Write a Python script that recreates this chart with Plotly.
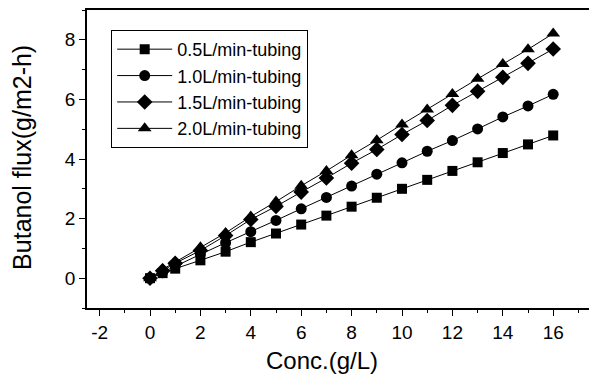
import plotly.graph_objects as go

conc = [0, 0.5, 1, 2, 3, 4, 5, 6, 7, 8, 9, 10, 11, 12, 13, 14, 15, 16]
flux_05 = [0, 0.17, 0.32, 0.60, 0.89, 1.21, 1.50, 1.80, 2.10, 2.40, 2.70, 3.00, 3.30, 3.60, 3.89, 4.20, 4.49, 4.79]
flux_10 = [0, 0.20, 0.42, 0.80, 1.19, 1.56, 1.94, 2.33, 2.71, 3.09, 3.49, 3.87, 4.26, 4.62, 5.01, 5.41, 5.78, 6.17]
flux_15 = [0, 0.25, 0.50, 0.93, 1.43, 1.97, 2.41, 2.89, 3.36, 3.86, 4.32, 4.82, 5.29, 5.80, 6.27, 6.74, 7.21, 7.69]
flux_20 = [0, 0.30, 0.54, 1.04, 1.52, 2.07, 2.57, 3.10, 3.60, 4.13, 4.63, 5.16, 5.66, 6.18, 6.69, 7.19, 7.68, 8.21]

series_names = ["0.5L/min-tubing", "1.0L/min-tubing", "1.5L/min-tubing", "2.0L/min-tubing"]
series_vals = [flux_05, flux_10, flux_15, flux_20]
symbols = ["square", "circle", "diamond", "triangle-up"]
sizes = [10, 11, 12, 12]

x_ticks = [-2, 0, 2, 4, 6, 8, 10, 12, 14, 16]
x_ticktext = ["-2", "0", "2", "4", "6", "8", "10", "12", "14", "16"]
y_ticks = [0, 2, 4, 6, 8]

x_title = "Conc.(g/L)"
y_title = "Butanol flux(g/m2-h)"

fig = go.Figure()
for name, vals, sym, sz in zip(series_names, series_vals, symbols, sizes):
    fig.add_trace(go.Scatter(
        x=conc, y=vals, name=name, mode="lines+markers",
        line=dict(color="black", width=1),
        marker=dict(symbol=sym, size=sz, color="black"),
    ))

font = "Arial, 'Liberation Sans', sans-serif"
axis_common = dict(
    showgrid=False, zeroline=False, showline=True, linecolor="black", linewidth=1.5,
    mirror=True, ticks="outside", ticklen=6, tickwidth=1, tickcolor="black",
    tickfont=dict(family=font, size=19, color="black"),
    automargin=False,
)

fig.update_layout(
    width=591, height=381,
    margin=dict(l=87, r=0, t=10, b=73),
    paper_bgcolor="white", plot_bgcolor="white",
    showlegend=True,
    legend=dict(
        x=0.048, y=0.933, xanchor="left", yanchor="top",
        bordercolor="black", borderwidth=1, bgcolor="white",
        font=dict(family=font, size=18, color="black"),
        itemwidth=55, tracegroupgap=0,
    ),
    xaxis=dict(
        range=[-2.5, 17.5], tickvals=x_ticks, ticktext=x_ticktext,
        minor=dict(ticks="outside", ticklen=3, tickcolor="black", dtick=1, tick0=-1),
        **axis_common,
    ),
    yaxis=dict(
        range=[-1, 9], tickvals=y_ticks,
        minor=dict(ticks="outside", ticklen=3, tickcolor="black", dtick=1, tick0=-1),
        **axis_common,
    ),
    annotations=[
        dict(text=x_title, xref="paper", yref="paper", x=0.466, y=-0.175,
             xanchor="center", yanchor="middle", showarrow=False,
             font=dict(family=font, size=24, color="black")),
        dict(text=y_title, xref="paper", yref="paper", x=-0.129, y=0.507,
             xanchor="center", yanchor="middle", showarrow=False, textangle=-90,
             font=dict(family=font, size=25, color="black")),
    ],
)

fig.write_html("out.html", config={"displayModeBar": False},
               post_script="document.body.style.margin='0';document.body.style.overflow='hidden';")
